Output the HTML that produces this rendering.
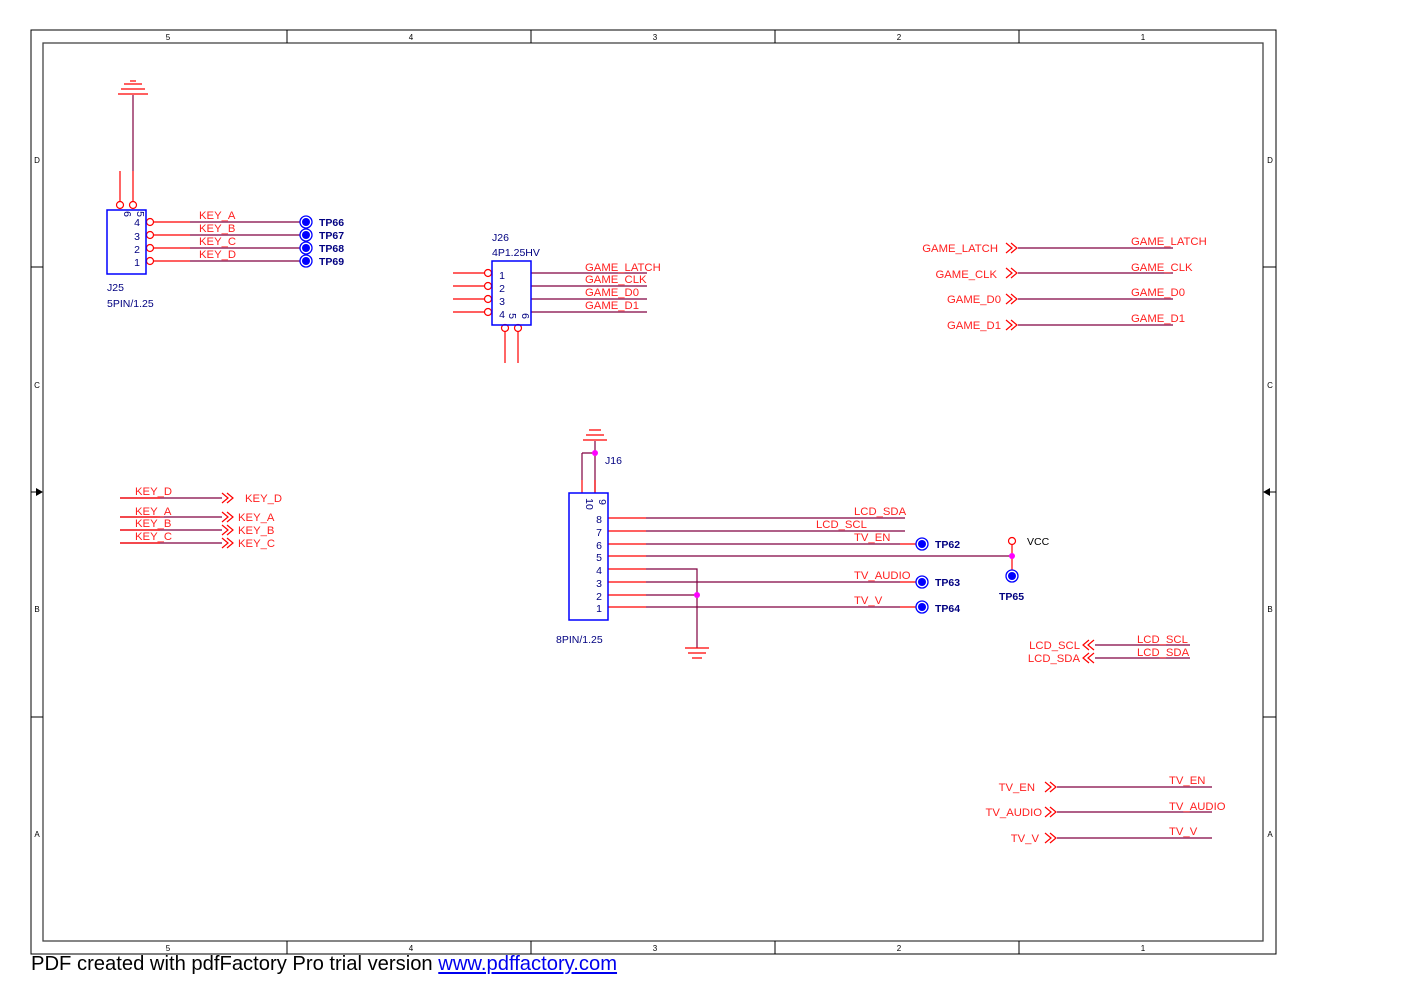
<!DOCTYPE html>
<html><head><meta charset="utf-8"><style>
body{margin:0;background:#fff;width:1402px;height:992px;overflow:hidden;position:relative;font-family:"Liberation Sans",sans-serif}
svg{position:absolute;left:0;top:0}
.foot{position:absolute;left:31px;top:953px;font-size:20.2px;color:#000;white-space:nowrap}
.foot span{color:#0000ee;text-decoration:underline}
</style></head><body>
<svg width="1402" height="992" viewBox="0 0 1402 992" font-family="Liberation Sans, sans-serif">
<g fill="none" stroke="#000" stroke-width="1">
<rect x="31" y="30" width="1245" height="924"/>
<rect x="43" y="43" width="1220" height="898" stroke="#444" stroke-width="1.3"/>
<path d="M287 30V43M531 30V43M775 30V43M1019 30V43M287 941V954M531 941V954M775 941V954M1019 941V954M31 267H43M31 717H43M1263 267H1276M1263 717H1276M31 492H38M1269 492H1276"/>
</g>
<path d="M36 488L43 492L36 496Z M1270 488L1263 492L1270 496Z" fill="#000"/>
<g font-size="8" fill="#000" text-anchor="middle">
<text x="168" y="40">5</text><text x="411" y="40">4</text><text x="655" y="40">3</text><text x="899" y="40">2</text><text x="1143" y="40">1</text>
<text x="168" y="951">5</text><text x="411" y="951">4</text><text x="655" y="951">3</text><text x="899" y="951">2</text><text x="1143" y="951">1</text>
<text x="37" y="163">D</text><text x="37" y="388">C</text><text x="37" y="612">B</text><text x="37" y="837">A</text>
<text x="1270" y="163">D</text><text x="1270" y="388">C</text><text x="1270" y="612">B</text><text x="1270" y="837">A</text>
</g>

<g stroke="#800040" stroke-width="1.2" fill="none">
<path d="M133 95V171"/>
<path d="M190 222H300M190 235H300M190 248H300M190 261H300"/>
<path d="M531 273H647M531 286H647M531 299H647M531 312H647"/>
<path d="M595 441V493M582 453H595M582 453V480M595 453V480"/>
<path d="M646 518H905M646 531H905M646 544H900M646 556H1012M646 569H697V648M646 582H900M646 595H697M646 607H900"/>
<path d="M1018 248H1173M1018 273H1173M1018 299H1173M1018 325H1173"/>
<path d="M1095 645H1190M1095 658H1190"/>
<path d="M1057 787H1212M1057 812H1212M1057 838H1212"/>
<path d="M120 498H222M120 517H222M120 530H222M120 543H222"/>
</g>
<g stroke="#ff0000" stroke-width="1.2" fill="none">
<path d="M120 171V201M133 171V201"/>
<path d="M154 222H190M154 235H190M154 248H190M154 261H190"/>
<path d="M453 273H484M453 286H484M453 299H484M453 312H484"/>
<path d="M505 332V363M518 332V363"/>
<path d="M608 518H646M608 531H646M608 544H646M608 556H646M608 569H646M608 582H646M608 595H646M608 607H646"/>
<path d="M582 480V493M595 480V493"/>
<path d="M900 544H916M900 582H916M900 607H916"/>
<path d="M1012 545V570"/>
<path d="M120 498H160M120 517H160M120 530H160M120 543H160"/>
<path d="M124 84H142M121 89H145M118 94H148"/>
<path d="M130 81H136"/>
<path d="M589 430H601M586 435H604M583 440H607"/>
<path d="M685 648H709M688 653H706M692 658H702"/>
<path d="M1006 243L1012 248L1006 253M1011 243L1017 248L1011 253"/>
<path d="M1006 268L1012 273L1006 278M1011 268L1017 273L1011 278"/>
<path d="M1006 294L1012 299L1006 304M1011 294L1017 299L1011 304"/>
<path d="M1006 320L1012 325L1006 330M1011 320L1017 325L1011 330"/>
<path d="M1045 782L1051 787L1045 792M1050 782L1056 787L1050 792"/>
<path d="M1045 807L1051 812L1045 817M1050 807L1056 812L1050 817"/>
<path d="M1045 833L1051 838L1045 843M1050 833L1056 838L1050 843"/>
<path d="M1089 640L1083 645L1089 650M1094 640L1088 645L1094 650"/>
<path d="M1089 653L1083 658L1089 663M1094 653L1088 658L1094 663"/>
<path d="M222 493L228 498L222 503M227 493L233 498L227 503"/>
<path d="M222 512L228 517L222 522M227 512L233 517L227 522"/>
<path d="M222 525L228 530L222 535M227 525L233 530L227 535"/>
<path d="M222 538L228 543L222 548M227 538L233 543L227 548"/>
</g>
<g stroke="#ff0000" stroke-width="1.2" fill="#fff">
<circle cx="120" cy="205" r="3.5"/><circle cx="133" cy="205" r="3.5"/>
<circle cx="150" cy="222" r="3.5"/><circle cx="150" cy="235" r="3.5"/><circle cx="150" cy="248" r="3.5"/><circle cx="150" cy="261" r="3.5"/>
<circle cx="488" cy="273" r="3.5"/><circle cx="488" cy="286" r="3.5"/><circle cx="488" cy="299" r="3.5"/><circle cx="488" cy="312" r="3.5"/>
<circle cx="505" cy="328" r="3.5"/><circle cx="518" cy="328" r="3.5"/>
<circle cx="1012" cy="541" r="3.5"/>
</g>
<g fill="#ff00ff"><circle cx="595" cy="453" r="3"/><circle cx="697" cy="595" r="3"/><circle cx="1012" cy="556" r="3"/></g>
<g stroke="#0000ff" stroke-width="1.5" fill="none">
<rect x="107" y="210" width="39" height="64"/>
<rect x="492" y="261" width="39" height="64"/>
<rect x="569" y="493" width="39" height="127"/>
</g>
<g stroke="#0000ff" stroke-width="1.3">
<g fill="#fff"><circle cx="306" cy="222" r="6"/><circle cx="306" cy="235" r="6"/><circle cx="306" cy="248" r="6"/><circle cx="306" cy="261" r="6"/><circle cx="922" cy="544" r="6"/><circle cx="922" cy="582" r="6"/><circle cx="922" cy="607" r="6"/><circle cx="1012" cy="576" r="6"/></g>
</g>
<g fill="#0000ff"><circle cx="306" cy="222" r="4"/><circle cx="306" cy="235" r="4"/><circle cx="306" cy="248" r="4"/><circle cx="306" cy="261" r="4"/><circle cx="922" cy="544" r="4"/><circle cx="922" cy="582" r="4"/><circle cx="922" cy="607" r="4"/><circle cx="1012" cy="576" r="4"/></g>
<g fill="#000080" font-size="10.5" text-anchor="end">
<text x="140" y="226">4</text><text x="140" y="240">3</text><text x="140" y="253">2</text><text x="140" y="266">1</text>
<text x="505" y="279">1</text><text x="505" y="292">2</text><text x="505" y="305">3</text><text x="505" y="318">4</text>
<text x="602" y="523">8</text><text x="602" y="536">7</text><text x="602" y="549">6</text><text x="602" y="561">5</text><text x="602" y="574">4</text><text x="602" y="587">3</text><text x="602" y="600">2</text><text x="602" y="612">1</text>
<text transform="translate(124,214) rotate(90)" text-anchor="middle">6</text>
<text transform="translate(137,214) rotate(90)" text-anchor="middle">5</text>
<text transform="translate(509,316) rotate(90)" text-anchor="middle">5</text>
<text transform="translate(522,316) rotate(90)" text-anchor="middle">6</text>
<text transform="translate(586,504) rotate(90)" text-anchor="middle">10</text>
<text transform="translate(599,502) rotate(90)" text-anchor="middle">9</text>
</g>
<g fill="#000080" font-size="10.5">
<text x="107" y="291">J25</text><text x="107" y="307">5PIN/1.25</text>
<text x="492" y="241">J26</text><text x="492" y="256">4P1.25HV</text>
<text x="605" y="464">J16</text><text x="556" y="643">8PIN/1.25</text>
<g font-weight="bold" font-size="10.5"><text x="319" y="226">TP66</text><text x="319" y="239">TP67</text><text x="319" y="252">TP68</text><text x="319" y="265">TP69</text>
<text x="935" y="548">TP62</text><text x="935" y="586">TP63</text><text x="935" y="612">TP64</text><text x="999" y="600">TP65</text></g>
</g>
<text x="1027" y="545" font-size="10.5" fill="#000">VCC</text>
<g fill="#ff2020" font-size="11.3">
<text x="199" y="219">KEY_A</text><text x="199" y="232">KEY_B</text><text x="199" y="245">KEY_C</text><text x="199" y="258">KEY_D</text>
<text x="585" y="271">GAME_LATCH</text><text x="585" y="283">GAME_CLK</text><text x="585" y="296">GAME_D0</text><text x="585" y="309">GAME_D1</text>
<text x="854" y="515">LCD_SDA</text><text x="816" y="528">LCD_SCL</text><text x="854" y="541">TV_EN</text><text x="854" y="579">TV_AUDIO</text><text x="854" y="604">TV_V</text>
<text x="1131" y="245">GAME_LATCH</text><text x="1131" y="271">GAME_CLK</text><text x="1131" y="296">GAME_D0</text><text x="1131" y="322">GAME_D1</text>
<text x="1137" y="643">LCD_SCL</text><text x="1137" y="656">LCD_SDA</text>
<text x="1169" y="784">TV_EN</text><text x="1169" y="810">TV_AUDIO</text><text x="1169" y="835">TV_V</text>
<text x="135" y="495">KEY_D</text><text x="135" y="515">KEY_A</text><text x="135" y="527">KEY_B</text><text x="135" y="540">KEY_C</text>
<text x="245" y="502">KEY_D</text><text x="238" y="521">KEY_A</text><text x="238" y="534">KEY_B</text><text x="238" y="547">KEY_C</text>
<g text-anchor="end"><text x="998" y="252">GAME_LATCH</text><text x="997" y="278">GAME_CLK</text><text x="1001" y="303">GAME_D0</text><text x="1001" y="329">GAME_D1</text>
<text x="1080" y="649">LCD_SCL</text><text x="1080" y="662">LCD_SDA</text>
<text x="1035" y="791">TV_EN</text><text x="1042" y="816">TV_AUDIO</text><text x="1039" y="842">TV_V</text></g>
</g>
</svg>
<div class="foot">PDF created with pdfFactory Pro trial version <span>www.pdffactory.com</span></div>
</body></html>
